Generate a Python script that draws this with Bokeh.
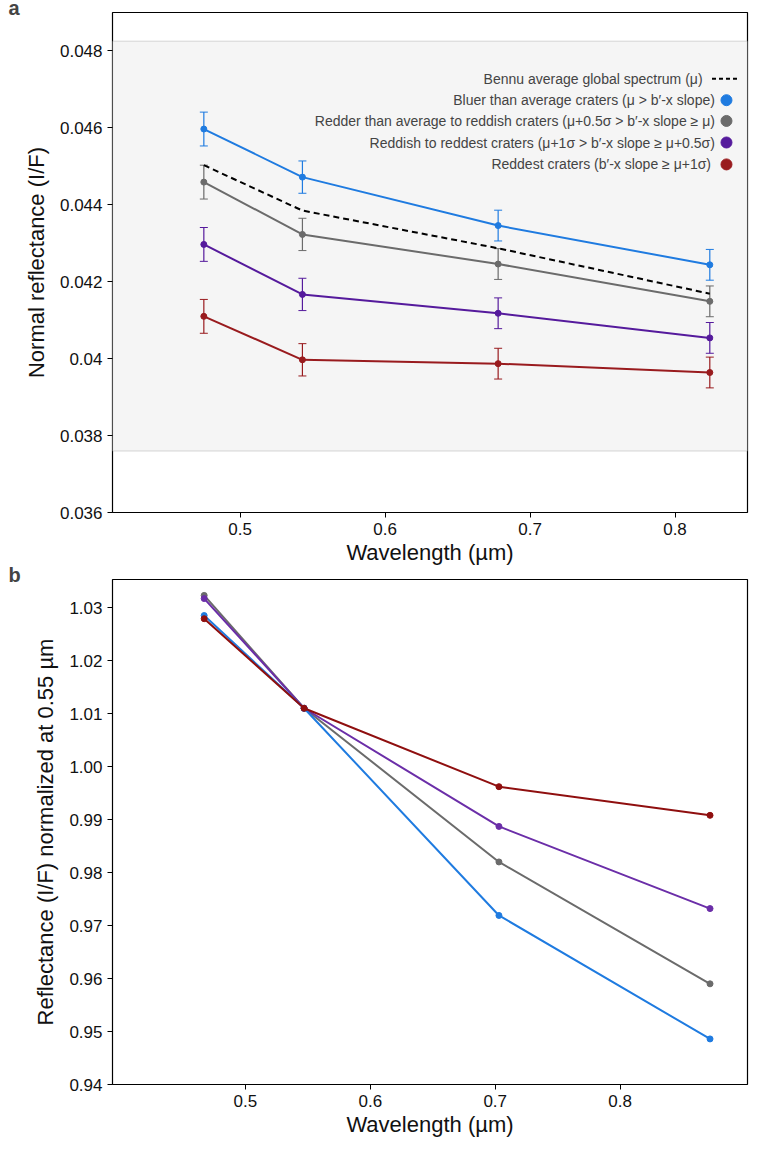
from bokeh.plotting import figure
from bokeh.layouts import column
from bokeh.models import BoxAnnotation, Whisker, ColumnDataSource, Label, Range1d, FixedTicker
from bokeh.embed import file_html
from bokeh.resources import INLINE

# panel a
wl_a = [0.475, 0.543, 0.678, 0.824]
mean_a = [0.04503, 0.04385, 0.04287, 0.04169]
blue_a = [0.04597, 0.04472, 0.04346, 0.04244]
gray_a = [0.04459, 0.04323, 0.04246, 0.04149]
purple_a = [0.04297, 0.04167, 0.04118, 0.04054]
red_a = [0.04110, 0.03997, 0.03987, 0.03964]
err_a = [0.00044, 0.00042, 0.00040, 0.00040]

# panel b
wl_b = [0.467, 0.547, 0.703, 0.872]
blue_b = [1.0285, 1.011, 0.9719, 0.9486]
gray_b = [1.0323, 1.011, 0.9820, 0.9590]
purple_b = [1.0317, 1.011, 0.9887, 0.9732]
red_b = [1.0279, 1.011, 0.9962, 0.9908]

mean_label = "Bennu average global spectrum (\u03bc)"
legend_labels = [
    "Bluer than average craters (\u03bc > b\u2032-x slope)",
    "Redder than average to reddish craters (\u03bc+0.5\u03c3 > b\u2032-x slope \u2265 \u03bc)",
    "Reddish to reddest craters (\u03bc+1\u03c3 > b\u2032-x slope \u2265 \u03bc+0.5\u03c3)",
    "Reddest craters (b\u2032-x slope \u2265  \u03bc+1\u03c3)",
]
legend_y = [0.04728, 0.04672, 0.04618, 0.04562, 0.04505]
COLORS = ["#1f7be0", "#6b6b6b", "#551a9c", "#991b1e"]
FONT = "Liberation Sans"


def style(p, tag):
    p.grid.grid_line_color = None
    p.outline_line_color = "black"
    p.outline_line_width = 1.2
    p.title.text = tag
    p.title.align = "left"
    p.title.offset = -104
    p.title.standoff = -12
    p.title.text_font = FONT
    p.title.text_font_size = "20px"
    p.title.text_color = "#444444"
    for ax in (p.xaxis, p.yaxis):
        ax.major_label_text_font = FONT
        ax.major_label_text_font_size = "17px"
        ax.major_label_text_color = "#111111"
        ax.axis_label_text_font = FONT
        ax.axis_label_text_font_size = "22px"
        ax.axis_label_text_font_style = "normal"
        ax.axis_label_text_color = "#111111"
        ax.axis_line_color = None
        ax.major_tick_in = 0
        ax.major_tick_out = 5
        ax.minor_tick_line_color = None
    p.xaxis.axis_label = "Wavelength (\u00b5m)"
    p.xaxis.ticker = FixedTicker(ticks=[0.5, 0.6, 0.7, 0.8])
    p.xaxis.axis_label_standoff = 2
    p.yaxis.axis_label_standoff = 8


pa = figure(width=749, height=560, frame_width=635, frame_height=500,
            x_range=Range1d(0.412, 0.85), y_range=Range1d(0.036, 0.049),
            output_backend="svg", toolbar_location=None,
            min_border_left=112, min_border_top=0, min_border_right=2)
style(pa, "a")
pa.yaxis.axis_label = "Normal reflectance (I/F)"
pa.yaxis.ticker = FixedTicker(ticks=[0.036, 0.038, 0.04, 0.042, 0.044, 0.046, 0.048])
pa.yaxis.major_label_overrides = {0.04: "0.04"}
pa.add_layout(BoxAnnotation(bottom=0.0376, top=0.04825, fill_color="#f5f5f5", fill_alpha=1,
                            line_color="#aaaaaa", line_width=1.5, level="underlay"))

pa.line(wl_a, mean_a, line_color="black", line_dash="6 4", line_width=2)
for vals, c in zip([blue_a, gray_a, purple_a, red_a], COLORS):
    pa.line(wl_a, vals, line_color=c, line_width=2)
    pa.scatter(wl_a, vals, size=6, color=c)
    src = ColumnDataSource(dict(x=wl_a, lo=[v - e for v, e in zip(vals, err_a)],
                                hi=[v + e for v, e in zip(vals, err_a)]))
    w = Whisker(base="x", lower="lo", upper="hi", source=src, line_color=c, line_width=1.2)
    w.upper_head.line_color = c
    w.lower_head.line_color = c
    w.upper_head.size = 8
    w.lower_head.size = 8
    pa.add_layout(w)

# legend
pa.add_layout(Label(x=0.819, y=legend_y[0], text=mean_label, text_align="right",
                    text_baseline="middle", text_font=FONT, text_font_size="14px"))
pa.line([0.8255, 0.8435], [legend_y[0]] * 2, line_color="black", line_dash="4 3", line_width=2)
for lab, c, yv in zip(legend_labels, COLORS, legend_y[1:]):
    pa.add_layout(Label(x=0.8275, y=yv, text=lab, text_align="right", text_baseline="middle",
                        text_font=FONT, text_font_size="14px"))
    pa.scatter([0.8355], [yv], size=11, color=c)

pb = figure(width=749, height=580, frame_width=635, frame_height=505,
            x_range=Range1d(0.3936, 0.902), y_range=Range1d(0.94, 1.0353),
            output_backend="svg", toolbar_location=None,
            min_border_left=112, min_border_top=0, min_border_right=2)
style(pb, "b")
pb.yaxis.axis_label = "Reflectance (I/F) normalized at 0.55 \u00b5m"
pb.yaxis.ticker = FixedTicker(ticks=[0.94, 0.95, 0.96, 0.97, 0.98, 0.99, 1.0, 1.01, 1.02, 1.03])
pb.yaxis.formatter.use_scientific = False
pb.yaxis.major_label_overrides = {1.0: "1.00"}
for vals, c in zip([gray_b, purple_b, blue_b, red_b], [COLORS[1], "#6b2ea8", COLORS[0], "#8f0f0f"]):
    pb.line(wl_b, vals, line_color=c, line_width=2)
    pb.scatter(wl_b, vals, size=6, color=c)

open("out.html", "w").write(file_html(column(pa, pb, spacing=0), INLINE))
